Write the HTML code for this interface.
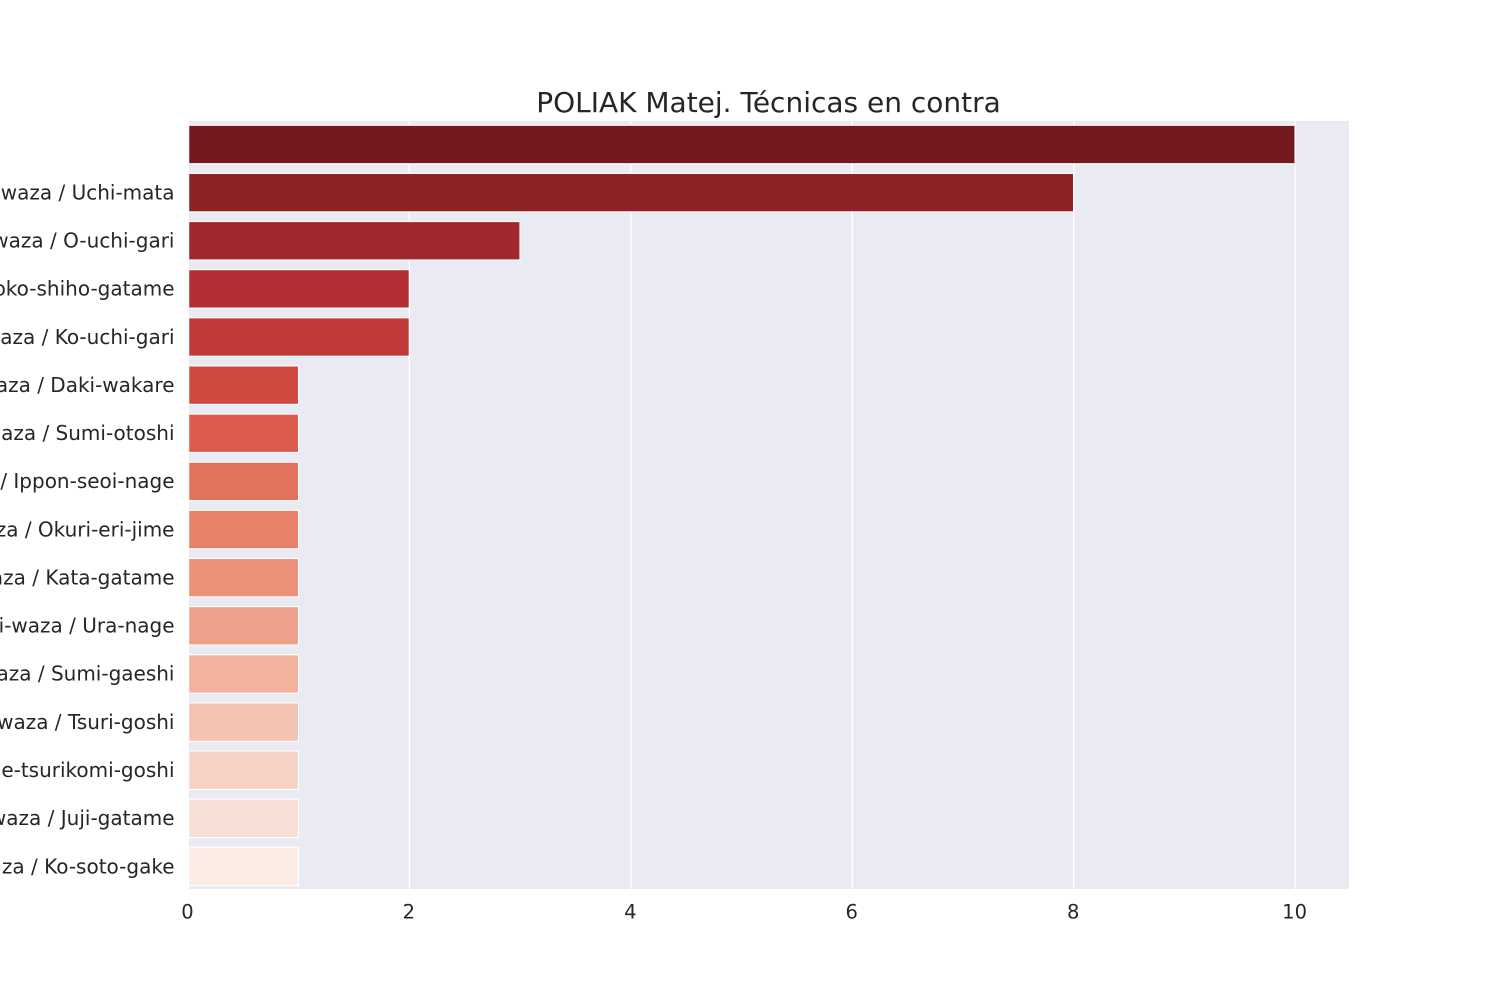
<!DOCTYPE html>
<html>
<head>
<meta charset="utf-8">
<title>POLIAK Matej. Técnicas en contra</title>
<style>
html,body{margin:0;padding:0;background:#fff;width:1500px;height:1000px;overflow:hidden}
svg{display:block}
text{font-family:"DejaVu Sans","Liberation Sans",sans-serif;fill:#262626}
</style>
</head>
<body>
<svg id="chart" xmlns="http://www.w3.org/2000/svg" width="1500" height="1000" viewBox="0 0 1500 1000">
<rect x="0" y="0" width="1500" height="1000" fill="#fff"/>
<rect x="189" y="121" width="1160" height="768" fill="#eaeaf2"/>
<g id="grid"></g>
<g id="bars"></g>
<g id="ylabels"></g>
<g id="xlabels"></g>
<text x="768.5" y="112" text-anchor="middle" font-size="28">POLIAK Matej. Técnicas en contra</text>
</svg>
<script>
const categories = ["", "Ashi-waza / Uchi-mata", "Ashi-waza / O-uchi-gari", "Osaekomi-waza / Yoko-shiho-gatame", "Ashi-waza / Ko-uchi-gari", "Yoko-sutemi-waza / Daki-wakare", "Te-waza / Sumi-otoshi", "Te-waza / Ippon-seoi-nage", "Shime-waza / Okuri-eri-jime", "Osaekomi-waza / Kata-gatame", "Ma-sutemi-waza / Ura-nage", "Ma-sutemi-waza / Sumi-gaeshi", "Koshi-waza / Tsuri-goshi", "Koshi-waza / Sode-tsurikomi-goshi", "Kansetsu-waza / Juji-gatame", "Ashi-waza / Ko-soto-gake"];
const values = [10, 8, 3, 2, 2, 1, 1, 1, 1, 1, 1, 1, 1, 1, 1, 1];
const barColors = ["#741920", "#8e2226", "#9f282d", "#b22e33", "#c03a38", "#d04a41", "#dc5b4e", "#e3725c", "#e8806a", "#eb9179", "#eda18b", "#f1b29e", "#f3c2b0", "#f5d2c4", "#f8e0d6", "#fbece5"];
const xTicks = [0, 2, 4, 6, 8, 10];

const NS = "http://www.w3.org/2000/svg";
const plot = {left: 189, right: 1349, top: 121, bottom: 889};
const xScale = v => 188 + v * 110.72;
const bandHeight = 48.13;
const yCenter = i => 144.5 + i * bandHeight;

const gridGroup = document.getElementById("grid");
const barGroup = document.getElementById("bars");
const yGroup = document.getElementById("ylabels");
const xGroup = document.getElementById("xlabels");

xTicks.forEach(t => {
  const x = xScale(t);
  if (t > 0) {
    const line = document.createElementNS(NS, "line");
    
    
    line.setAttribute("x1", x);
    line.setAttribute("x2", x);
    line.setAttribute("y1", plot.top);
    line.setAttribute("y2", plot.bottom);
    line.setAttribute("stroke", "#fff");
    line.setAttribute("stroke-width", "1.4");
    gridGroup.appendChild(line);
  }
  const label = document.createElementNS(NS, "text");
  
  
  label.setAttribute("x", x - 0.6);
  label.setAttribute("y", 918.5);
  label.setAttribute("text-anchor", "middle");
  label.setAttribute("font-size", "19.5");
  label.textContent = t;
  xGroup.appendChild(label);
});

values.forEach((v, i) => {
  const h = 38.4;
  const bar = document.createElementNS(NS, "rect");
  
  
  bar.setAttribute("x", xScale(0) + 0.7);
  bar.setAttribute("y", yCenter(i) - h / 2);
  bar.setAttribute("width", xScale(v) - xScale(0) - 0.9);
  bar.setAttribute("height", h);
  bar.setAttribute("fill", barColors[i]);
  bar.setAttribute("stroke", "#fff");
  bar.setAttribute("stroke-width", "1.1");
  barGroup.appendChild(bar);

  const label = document.createElementNS(NS, "text");
  
  
  label.setAttribute("x", 174.5);
  label.setAttribute("y", yCenter(i) + 6.8);
  label.setAttribute("text-anchor", "end");
  label.setAttribute("font-size", "20");
  label.textContent = categories[i];
  yGroup.appendChild(label);
});
</script>
</body>
</html>
